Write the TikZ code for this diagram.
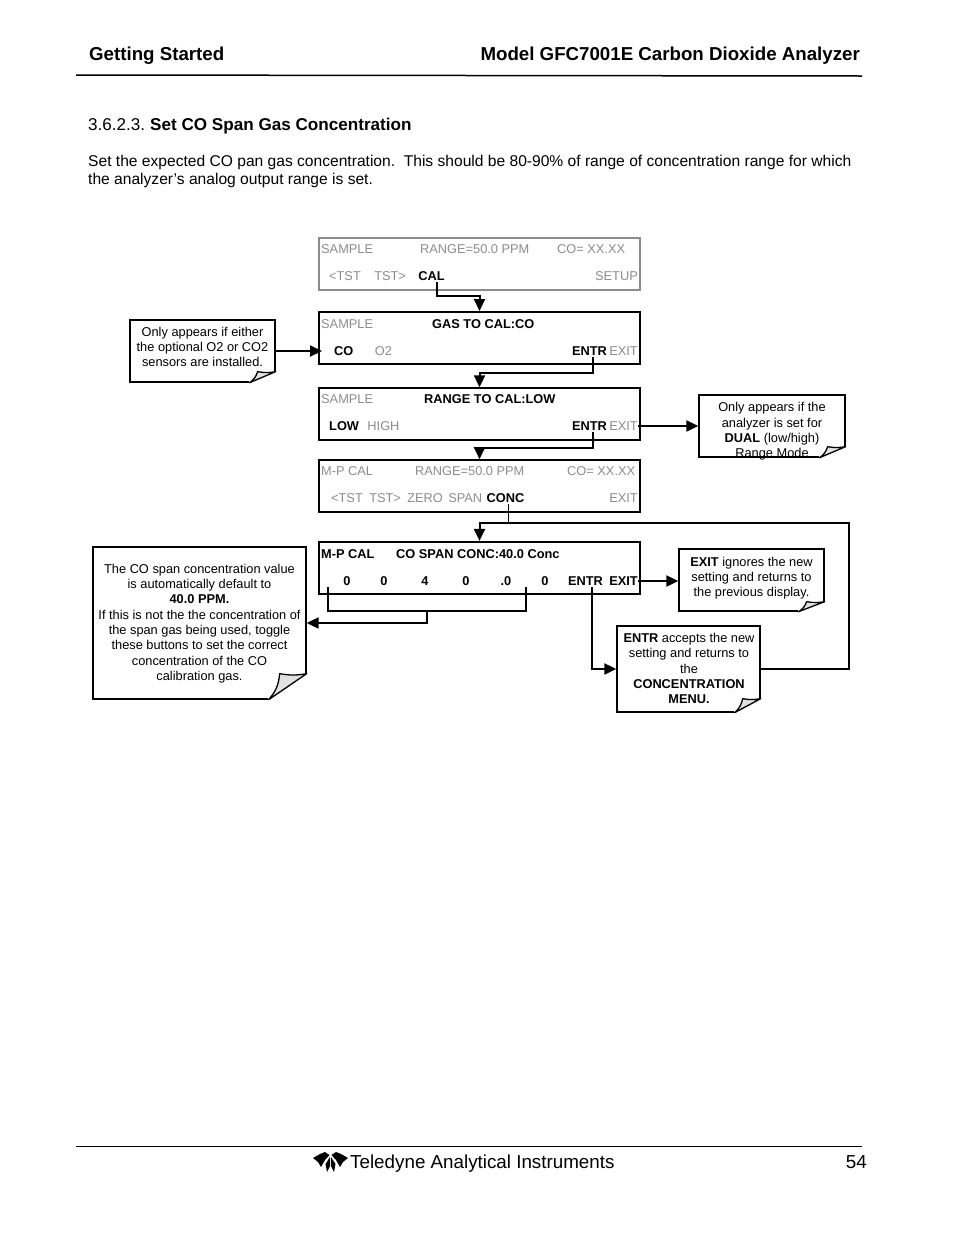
\documentclass[tikz,border=0pt]{standalone}
\usepackage{fontspec}
\setmainfont{Liberation Sans}
\usepackage{xcolor}
\usetikzlibrary{arrows.meta,positioning}
\definecolor{dimgray}{HTML}{8C8C8C}
\definecolor{foldgray}{HTML}{E2E2E2}

\begin{document}
\begin{tikzpicture}[
    x=1pt, y=-1pt,
    font=\fontsize{12.8}{15.3}\selectfont,
    screen/.style={draw, line width=2pt, minimum width=321pt, minimum height=52pt, inner sep=0pt},
    note/.style={draw, line width=1.3pt, fill=white, inner sep=0pt},
    notetext/.style={align=center, inner sep=0pt},
    dimtext/.style={text=dimgray, inner sep=0pt, text height=10pt, text depth=2pt},
    keytext/.style={font=\fontsize{12.8}{15.3}\selectfont\bfseries, inner sep=0pt, text height=10pt, text depth=2pt},
    plain/.style={anchor=west, inner sep=0pt},
    arrow/.style={-{Triangle[length=12pt, width=11pt]}, line width=2pt},
    link/.style={line width=2pt}
  ]
    \useasboundingbox (0,0) rectangle (954,1235);

    % page furniture
    \node[plain, font=\fontsize{18.7}{20}\selectfont\bfseries] (chapter) at (89,56) {Getting Started};
    \node[plain, anchor=east, font=\fontsize{18.7}{20}\selectfont\bfseries] (model) at (860,56) {Model GFC7001E Carbon Dioxide Analyzer};
    \coordinate (headleft) at (76,75);
    \coordinate (headright) at (862,76);
    \draw[line width=1.5pt] (headleft) -- (headright);
    \node[plain, font=\fontsize{17.1}{19}\selectfont] (section) at (88,126) {3.6.2.3.\hspace{5pt}\textbf{Set CO Span Gas Concentration}};
    \node[plain, align=left, font=\fontsize{15.6}{18.8}\selectfont] (intro) at (88,171.5) {Set the expected CO pan gas concentration.\ \ This should be 80-90\% of range of concentration range for which\\the analyzer’s analog output range is set.};

    % displays
    \node[screen, draw=gray!90] (home) at (479.5,263.5) {};
    \node[screen, below=20.5pt of home] (gas) {};
    \node[screen, below=22.3pt of gas, line width=1.3pt] (range) {};
    \node[screen, below=18.6pt of range, line width=1.5pt] (conc) {};
    \node[screen, below=28.2pt of conc] (span) {};

    \node[dimtext, anchor=west] (hometitle) at (321,249) {SAMPLE};
    \node[dimtext, anchor=west] (homerange) at (420,249) {RANGE=50.0 PPM};
    \node[dimtext, anchor=west] (homeco) at (557,249) {CO= XX.XX};
    \node[dimtext, anchor=west] (hometsta) at (329,276) {<TST};
    \node[dimtext, right=13pt of hometsta] (hometstb) {TST>};
    \node[keytext, right=12pt of hometstb] (homecal) {CAL};
    \node[dimtext, anchor=east] (homesetup) at (638,276) {SETUP};

    \node[dimtext, anchor=west] (gastitle) at (321,324) {SAMPLE};
    \node[keytext, anchor=west] (gaslabel) at (432,324) {GAS TO CAL:CO};
    \node[keytext, anchor=west] (gasco) at (334,351) {CO};
    \node[dimtext, right=21pt of gasco] (gasoxy) {O2};
    \node[dimtext, anchor=east] (gasexit) at (638,351) {EXIT};
    \node[keytext, left=2pt of gasexit] (gasentr) {ENTR};

    \node[dimtext, anchor=west] (rangetitle) at (321,399) {SAMPLE};
    \node[keytext, anchor=west] (rangelabel) at (424,399) {RANGE TO CAL:LOW};
    \node[keytext, anchor=west] (rangelow) at (329,426) {LOW};
    \node[dimtext, right=8pt of rangelow] (rangehigh) {HIGH};
    \node[dimtext, anchor=east] (rangeexit) at (638,426) {EXIT};
    \node[keytext, left=2pt of rangeexit] (rangeentr) {ENTR};

    \node[dimtext, anchor=west] (conctitle) at (321,471) {M-P CAL};
    \node[dimtext, anchor=west] (concrange) at (415,471) {RANGE=50.0 PPM};
    \node[dimtext, anchor=west] (concco) at (567,471) {CO= XX.XX};
    \node[dimtext, anchor=west] (conctsta) at (331,498) {<TST};
    \node[dimtext, right=6pt of conctsta] (conctstb) {TST>};
    \node[dimtext, right=6pt of conctstb] (conczero) {ZERO};
    \node[dimtext, right=5pt of conczero] (concspan) {SPAN};
    \node[keytext, right=4pt of concspan] (concconc) {CONC};
    \node[dimtext, anchor=east] (concexit) at (638,498) {EXIT};

    \node[keytext, anchor=west] (spantitle) at (321,554) {M-P CAL};
    \node[keytext, anchor=west] (spanlabel) at (396,554) {CO SPAN CONC:40.0 Conc};
    \node[keytext] (digita) at (347,581) {0};
    \node[keytext] (digitb) at (384,581) {0};
    \node[keytext] (digitc) at (425,581) {4};
    \node[keytext] (digitd) at (466,581) {0};
    \node[keytext] (digite) at (506,581) {.0};
    \node[keytext] (digitf) at (545,581) {0};
    \node[keytext, anchor=east] (spanexit) at (638,581) {EXIT};
    \node[keytext, left=6pt of spanexit] (spanentr) {ENTR};

    % notes
    \node[note, minimum width=145pt, minimum height=62pt] (optnote) at (202.5,351) {};
    \node[notetext] (opttext) at (202.5,347) {Only appears if either\\the optional O2 or CO2\\sensors are installed.};
    \node[note, minimum width=146pt, minimum height=62pt] (dualnote) at (772,426) {};
    \node[notetext] (dualtext) at (772,431.5) {Only appears if the\\analyzer is set for\\\textbf{DUAL} (low/high)\\Range Mode};
    \node[note, minimum width=145pt, minimum height=62pt] (exitnote) at (751.5,580) {};
    \node[notetext] (exittext) at (751.5,578) {\textbf{EXIT} ignores the new\\setting and returns to\\the previous display.};
    \node[note, minimum width=143pt, minimum height=86pt] (entrnote) at (688.5,669) {};
    \node[notetext] (entrtext) at (689,668.5) {\textbf{ENTR} accepts the new\\setting and returns to\\the\\\textbf{CONCENTRATION}\\\textbf{MENU.}};
    \node[note, minimum width=213pt, minimum height=152pt] (spannote) at (199.5,623) {};
    \node[notetext] (spantext) at (199.5,623.5) {The CO span concentration value\\is automatically default to\\\textbf{40.0 PPM.}\\If this is not the the concentration of\\the span gas being used, toggle\\these buttons to set the correct\\concentration of the CO\\calibration gas.};

    % folded corners
    \foreach \name/\wide/\high/\inset in {optnote/26/11/18, dualnote/26/11/18, exitnote/26/10/18, entrnote/26/14/18, spannote/38/26/27} {
      \fill[white] (\name.south east) ++(-\wide-1,1) rectangle ++(\wide+2,-\high-1);
      \path (\name.south east) ++(-\wide,0) coordinate (foldtip) ++(\wide,-\high) coordinate (foldedge) ++(-\inset,0) coordinate (foldinner);
      \draw[line width=1.3pt, fill=foldgray, line join=round] (foldtip) to[bend right=18] (foldinner) to[bend right=10] (foldedge) -- cycle;
    }

    % connectors
    \coordinate (calbend) at (0,296);
    \coordinate (gasbend) at (0,373);
    \coordinate (rangebend) at (0,448);
    \coordinate (returnbend) at (849,523);
    \coordinate (digitrail) at (0,611);
    \coordinate (digitend) at (526,587);
    \coordinate (digitstart) at (328,587);
    \coordinate (railtap) at (427,611);

    \draw[arrow] ([xshift=6pt]homecal.south) -- ([xshift=6pt]homecal.south |- calbend) -| (gas.north);
    \draw[arrow] ([xshift=3pt]gasentr.south) -- ([xshift=3pt]gasentr.south |- gasbend) -| (range.north);
    \draw[arrow] ([xshift=3pt]rangeentr.south) -- ([xshift=3pt]rangeentr.south |- rangebend) -| (conc.north);
    \draw[arrow] (optnote.east) -- ([xshift=4pt]optnote.east -| gas.west);
    \draw[arrow] (rangeexit.east) -- (rangeexit.east -| dualnote.west);
    \draw[line width=1pt] ([xshift=3.5pt]concconc.south) -- ([xshift=3.5pt]concconc.south |- returnbend);
    \draw[arrow] (entrnote.east) -| (returnbend) -| (span.north);
    \draw[link] (digitstart) |- (digitend |- digitrail) -- (digitend);
    \draw[arrow] (railtap) |- (spannote.east);
    \draw[arrow] (spanexit.east) -- (spanexit.east -| exitnote.west);
    \draw[arrow] ([xshift=6.5pt]spanentr.south) |- (entrnote.west);

    % footer
    \coordinate (footleft) at (76,1146);
    \coordinate (footright) at (862,1146);
    \draw[line width=1pt] (footleft) -- (footright);
    \fill (313,1158) -- (320,1154) -- (325,1152) -- (329.5,1155) -- (325,1160) -- (321,1167) -- (318,1162) -- cycle;
    \fill (348,1158) -- (341,1154) -- (336,1152) -- (331.5,1155) -- (336,1160) -- (340,1167) -- (343,1162) -- cycle;
    \fill (330,1157) -- (325.5,1164) -- (327,1172) -- (330,1166) -- cycle;
    \fill (331,1157) -- (335.5,1164) -- (334,1172) -- (331,1166) -- cycle;
    \node[plain, font=\fontsize{18.8}{20}\selectfont] (maker) at (350,1164) {Teledyne Analytical Instruments};
    \node[plain, anchor=east, font=\fontsize{18.8}{20}\selectfont] (pageno) at (867,1162) {54};
  \end{tikzpicture}
\end{document}
